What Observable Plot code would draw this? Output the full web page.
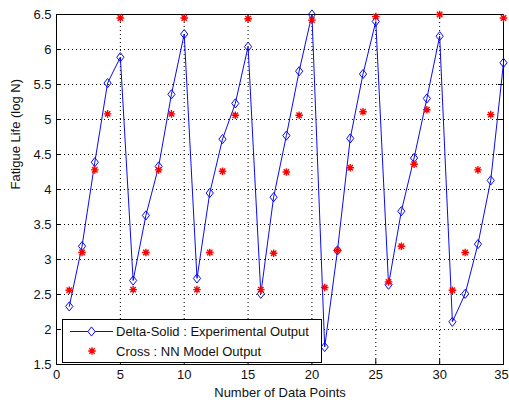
<!DOCTYPE html>
<html>
<head>
<meta charset="utf-8">
<script src="https://cdn.jsdelivr.net/npm/d3@7"></script>
<script src="https://cdn.jsdelivr.net/npm/@observablehq/plot@0.6"></script>
<style>
  html, body { margin: 0; padding: 0; background: #fff; }
  svg { display: block; }
</style>
</head>
<body>
<div id="chart"></div>
<script>
// ---- data ----
const dataPoints = [1,2,3,4,5,6,7,8,9,10,11,12,13,14,15,16,17,18,19,20,21,22,23,24,25,26,27,28,29,30,31,32,33,34,35];
const experimental = [2.33,3.19,4.39,5.52,5.89,2.70,3.63,4.33,5.36,6.22,2.73,3.95,4.72,5.23,6.04,2.51,3.89,4.77,5.69,6.50,1.75,3.13,4.73,5.65,6.40,2.64,3.69,4.45,5.30,6.19,2.11,2.51,3.22,4.13,5.81];
const nnModel = [2.56,3.10,4.28,5.08,6.45,2.57,3.10,4.28,5.08,6.45,2.57,3.10,4.26,5.06,6.44,2.57,3.09,4.25,5.06,6.42,2.60,3.13,4.31,5.11,6.47,2.68,3.19,4.36,5.14,6.50,2.56,3.10,4.28,5.07,6.45];
const xTicks = [0,5,10,15,20,25,30,35];
const yTicks = [1.5,2,2.5,3,3.5,4,4.5,5,5.5,6,6.5];
const seriesNames = ["Delta-Solid : Experimental Output", "Cross : NN Model Output"];
const xLabel = "Number of Data Points";
const yLabel = "Fatigue Life (log N)";

// ---- styles ----
const blue = "#0a0af0";
const red = "#ff0000";
const font = "'Liberation Sans', Arial, Helvetica, sans-serif";
const fs = 13;

const diamondSym = {draw(ctx) {
  const w = 3.6, h = 4.6;
  ctx.moveTo(0, -h); ctx.lineTo(w, 0); ctx.lineTo(0, h); ctx.lineTo(-w, 0); ctx.closePath();
}};
const starSym = {draw(ctx) {
  const r = 3.8, a = 2.7;
  ctx.moveTo(0, -r); ctx.lineTo(0, r);
  ctx.moveTo(-r, 0); ctx.lineTo(r, 0);
  ctx.moveTo(-a, -a); ctx.lineTo(a, a);
  ctx.moveTo(-a, a); ctx.lineTo(a, -a);
}};

const W = 509, H = 407;
const mL = 56, mR = 6, mT = 14, mB = 43;
const fw = W - mL - mR, fh = H - mT - mB;

const expRows = dataPoints.map((x, i) => ({x, y: experimental[i]}));
const nnRows = dataPoints.map((x, i) => ({x, y: nnModel[i]}));

const plot = Plot.plot({
  width: W,
  height: H,
  marginLeft: mL,
  marginRight: mR,
  marginTop: mT,
  marginBottom: mB,
  style: {fontFamily: font, fontSize: fs + "px", background: "#fff", overflow: "visible"},
  x: {domain: [0, 35], axis: null},
  y: {domain: [1.5, 6.5], axis: null},
  marks: [
    // dotted grid
    Plot.ruleX(xTicks, {x: d => d, stroke: "#000", strokeWidth: 1, strokeDasharray: "1,3"}),
    Plot.ruleY(yTicks, {y: d => d, stroke: "#000", strokeWidth: 1, strokeDasharray: "1,3"}),
    // inward ticks on all four sides
    Plot.ruleX(xTicks, {x: d => d, insetTop: fh - 5, stroke: "#000"}),
    Plot.ruleX(xTicks, {x: d => d, insetBottom: fh - 5, stroke: "#000"}),
    Plot.ruleY(yTicks, {y: d => d, insetRight: fw - 5, stroke: "#000"}),
    Plot.ruleY(yTicks, {y: d => d, insetLeft: fw - 5, stroke: "#000"}),
    Plot.frame({stroke: "#000", strokeWidth: 1}),
    // tick labels
    Plot.text(xTicks.slice(0, -1), {x: d => d, text: d => String(d), frameAnchor: "bottom", dy: 14, fontSize: fs, fill: "#111"}),
    Plot.text(xTicks.slice(-1), {x: d => d, text: d => String(d), frameAnchor: "bottom", dy: 14, dx: -2, fontSize: fs, fill: "#111"}),
    Plot.text(yTicks, {y: d => d, text: d => String(d), frameAnchor: "left", textAnchor: "end", dx: -5, fontSize: fs, fill: "#111"}),
    // axis labels
    Plot.text([xLabel], {text: d => d, frameAnchor: "bottom", dy: 32, fontSize: fs, fill: "#111"}),
    Plot.text([yLabel], {text: d => d, frameAnchor: "left", rotate: -90, dx: -41, fontSize: fs, fill: "#111"}),
    // series
    Plot.line(expRows, {x: "x", y: "y", stroke: blue, strokeWidth: 1}),
    Plot.dot(expRows, {x: "x", y: "y", symbol: diamondSym, r: 4, stroke: blue, fill: "none", strokeWidth: 1}),
    Plot.dot(nnRows, {x: "x", y: "y", symbol: starSym, r: 4, stroke: red, fill: "none", strokeWidth: 1.4})
  ]
});

document.getElementById("chart").appendChild(plot);

// ---- legend (inside axes, lower-left) ----
const svg = d3.select(plot);
const lg = svg.append("g").attr("font-family", font).attr("font-size", fs).attr("text-anchor", "start");
lg.append("rect").attr("x", 62.5).attr("y", 319.5).attr("width", 259).attr("height", 43)
  .attr("fill", "#fff").attr("stroke", "#000");
lg.append("line").attr("x1", 70).attr("x2", 113).attr("y1", 331.5).attr("y2", 331.5)
  .attr("stroke", blue).attr("stroke-width", 1);
lg.append("path").attr("d", d3.symbol(diamondSym)()).attr("transform", "translate(91.5,331.5)")
  .attr("fill", "#fff").attr("stroke", blue);
lg.append("path").attr("d", d3.symbol(starSym)()).attr("transform", "translate(92,351)")
  .attr("fill", "none").attr("stroke", red).attr("stroke-width", 1.4);
lg.selectAll("text.lbl").data(seriesNames).join("text")
  .attr("x", 116).attr("y", (d, i) => 331 + i * 20).attr("dy", "0.35em")
  .attr("text-anchor", "start").attr("fill", "#111").text(d => d);
</script>
</body>
</html>
